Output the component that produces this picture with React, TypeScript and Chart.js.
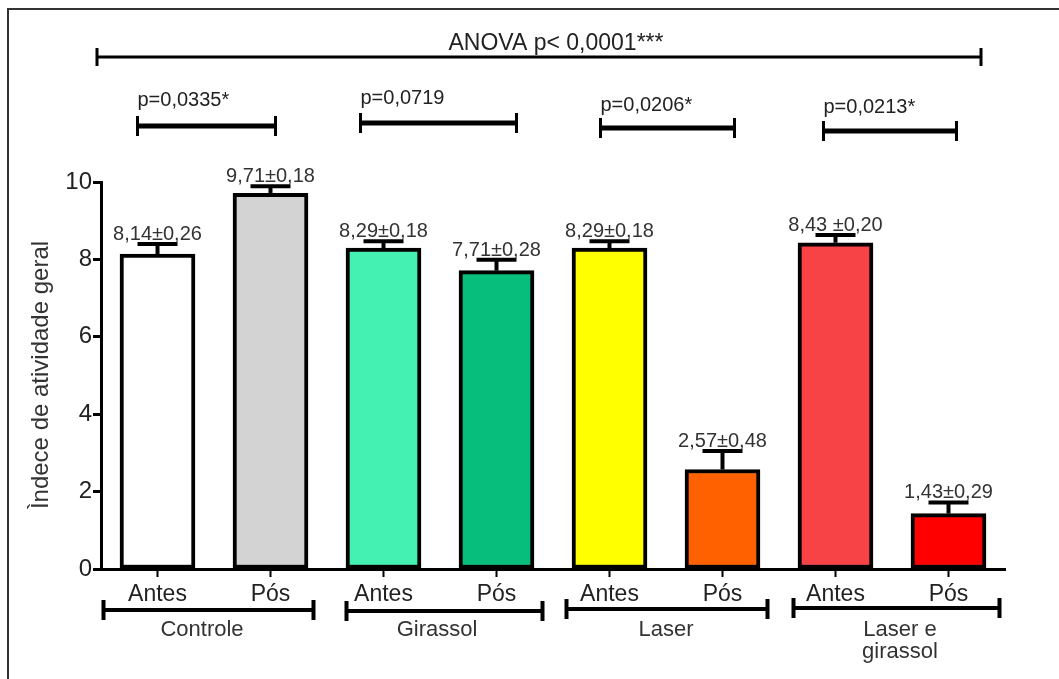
import React, { useEffect, useRef } from 'react';
import { Chart, registerables } from 'chart.js';

Chart.register(...registerables);

const categories = ['Antes', 'Pós', 'Antes', 'Pós', 'Antes', 'Pós', 'Antes', 'Pós'];
const groupLabels = [['Controle'], ['Girassol'], ['Laser'], ['Laser e', 'girassol']];
const means = [8.14, 9.71, 8.29, 7.71, 8.29, 2.57, 8.43, 1.43];
const sems = [0.26, 0.18, 0.18, 0.28, 0.18, 0.48, 0.2, 0.29];
const valueLabels = ['8,14±0,26', '9,71±0,18', '8,29±0,18', '7,71±0,28', '8,29±0,18', '2,57±0,48', '8,43 ±0,20', '1,43±0,29'];
const barColors = ['#ffffff', '#d3d3d3', '#44f0b2', '#08be7c', '#ffff00', '#ff6000', '#f84346', '#ff0000'];
const pValues = ['p=0,0335*', 'p=0,0719', 'p=0,0206*', 'p=0,0213*'];
const anovaLabel = 'ANOVA p< 0,0001***';
const yTicks = [0, 2, 4, 6, 8, 10];
const yTitle = 'Ìndece de atividade geral';

const FONT = '"Liberation Sans", Arial, sans-serif';

function bracket(ctx: CanvasRenderingContext2D, x1: number, x2: number, y: number, half: number, lw: number, capW: number) {
  ctx.lineCap = 'butt';
  ctx.lineWidth = lw;
  ctx.beginPath();
  ctx.moveTo(x1, y);
  ctx.lineTo(x2, y);
  ctx.stroke();
  ctx.lineWidth = capW;
  ctx.beginPath();
  ctx.moveTo(x1, y - half);
  ctx.lineTo(x1, y + half);
  ctx.moveTo(x2, y - half);
  ctx.lineTo(x2, y + half);
  ctx.stroke();
}

const annotPlugin = {
  id: 'annot',
  afterDatasetsDraw(chart: any) {
    const ctx: CanvasRenderingContext2D = chart.ctx;
    const y = chart.scales.y;
    const meta = chart.getDatasetMeta(0);
    const px = (i: number) => meta.data[i].x;
    const base = chart.chartArea.bottom;
    ctx.save();
    // x tick marks at category centres
    ctx.strokeStyle = '#000';
    ctx.lineWidth = 2;
    ctx.beginPath();
    meta.data.forEach((bar: any) => {
      ctx.moveTo(bar.x, base);
      ctx.lineTo(bar.x, base + 8);
    });
    ctx.stroke();

    // error bars + value labels
    meta.data.forEach((bar: any, i: number) => {
      const top = y.getPixelForValue(means[i]);
      const capY = y.getPixelForValue(means[i] + sems[i]);
      ctx.strokeStyle = '#000';
      ctx.lineCap = 'butt';
      ctx.lineWidth = 4;
      ctx.beginPath();
      ctx.moveTo(bar.x, top);
      ctx.lineTo(bar.x, capY);
      ctx.stroke();
      ctx.beginPath();
      ctx.moveTo(bar.x - 20, capY);
      ctx.lineTo(bar.x + 20, capY);
      ctx.stroke();
      ctx.fillStyle = '#333';
      ctx.font = '20px ' + FONT;
      ctx.textAlign = 'center';
      ctx.textBaseline = 'alphabetic';
      ctx.fillText(valueLabels[i], bar.x, capY - 4);
    });

    // ANOVA bracket
    ctx.strokeStyle = '#000';
    bracket(ctx, 97, 981, 57, 9, 3, 3);
    ctx.fillStyle = '#222';
    ctx.font = '23px ' + FONT;
    ctx.textAlign = 'center';
    ctx.fillText(anovaLabel, 556, 50);

    // pairwise p brackets
    const pb = [
      { a: 0, b: 1, l: -20, r: 5, y: 126, ty: 106 },
      { a: 2, b: 3, l: -23, r: 20, y: 123, ty: 104 },
      { a: 4, b: 5, l: -9, r: 12, y: 128, ty: 111 },
      { a: 6, b: 7, l: -12, r: 8, y: 131, ty: 113 },
    ];
    pb.forEach((s, k) => {
      const x1 = px(s.a) + s.l;
      const x2 = px(s.b) + s.r;
      ctx.strokeStyle = '#000';
      bracket(ctx, x1, x2, s.y, 10, 5, 3);
      ctx.fillStyle = '#222';
      ctx.font = '20px ' + FONT;
      ctx.textAlign = 'left';
      ctx.fillText(pValues[k], x1, s.ty);
    });

    // group brackets below axis
    const gb = [
      { a: 0, b: 1, l: -54, r: 43, y: 610, tx: -12 },
      { a: 2, b: 3, l: -37, r: 46, y: 611, tx: -3 },
      { a: 4, b: 5, l: -43, r: 45, y: 609, tx: 0 },
      { a: 6, b: 7, l: -42, r: 51, y: 608, tx: 8 },
    ];
    gb.forEach((s, k) => {
      const x1 = px(s.a) + s.l;
      const x2 = px(s.b) + s.r;
      ctx.strokeStyle = '#000';
      bracket(ctx, x1, x2, s.y, 10, 4, 4);
      ctx.fillStyle = '#333';
      ctx.font = '22px ' + FONT;
      ctx.textAlign = 'center';
      const cx = (px(s.a) + px(s.b)) / 2 + s.tx;
      groupLabels[k].forEach((t, j) => ctx.fillText(t, cx, 636 + j * 22));
    });

    // y title
    ctx.save();
    ctx.translate(41, 375);
    ctx.rotate(-Math.PI / 2);
    ctx.fillStyle = '#333';
    ctx.font = '24px ' + FONT;
    ctx.textAlign = 'center';
    ctx.textBaseline = 'middle';
    ctx.fillText(yTitle, 0, 0);
    ctx.restore();

    // frame
    ctx.strokeStyle = '#333';
    ctx.lineWidth = 2;
    ctx.beginPath();
    ctx.moveTo(8, 679);
    ctx.lineTo(8, 9);
    ctx.lineTo(1059, 9);
    ctx.stroke();
    ctx.restore();
  },
};

export default function App() {
  const ref = useRef<HTMLCanvasElement | null>(null);
  useEffect(() => {
    if (!ref.current) return;
    const chart = new Chart(ref.current, {
      type: 'bar',
      data: {
        labels: categories,
        datasets: [
          {
            data: means,
            backgroundColor: barColors,
            borderColor: '#000',
            borderWidth: 4,
            borderSkipped: false,
            barThickness: 75,
          },
        ],
      },
      options: {
        animation: false,
        responsive: true,
        maintainAspectRatio: false,
        layout: { padding: { left: 0, top: 182, right: 54, bottom: 0 } },
        plugins: { legend: { display: false }, tooltip: { enabled: false } },
        scales: {
          x: {
            afterFit: (s: any) => { s.height = 110; },
            grid: { display: true, drawOnChartArea: false, drawTicks: true, tickLength: 7, tickWidth: 2, tickColor: 'rgba(0,0,0,0)' },
            border: { display: true, color: '#000', width: 3 },
            ticks: { color: '#222', font: { size: 23, family: FONT }, padding: 5, maxRotation: 0 },
          },
          y: {
            min: 0,
            max: 10,
            afterFit: (s: any) => { s.width = 101; },
            afterBuildTicks: (s: any) => { s.ticks = yTicks.map((v) => ({ value: v })); },
            grid: { display: true, drawOnChartArea: false, drawTicks: true, tickLength: 8, tickWidth: 3, tickColor: '#000' },
            border: { display: true, color: '#000', width: 3 },
            ticks: { color: '#222', font: { size: 24, family: FONT }, padding: 1 },
          },
        },
      },
      plugins: [annotPlugin],
    });
    return () => chart.destroy();
  }, []);
  return (
    <div style={{ position: 'fixed', left: 0, top: 0, width: 1059, height: 679, background: '#fff' }}>
      <canvas ref={ref} />
    </div>
  );
}
